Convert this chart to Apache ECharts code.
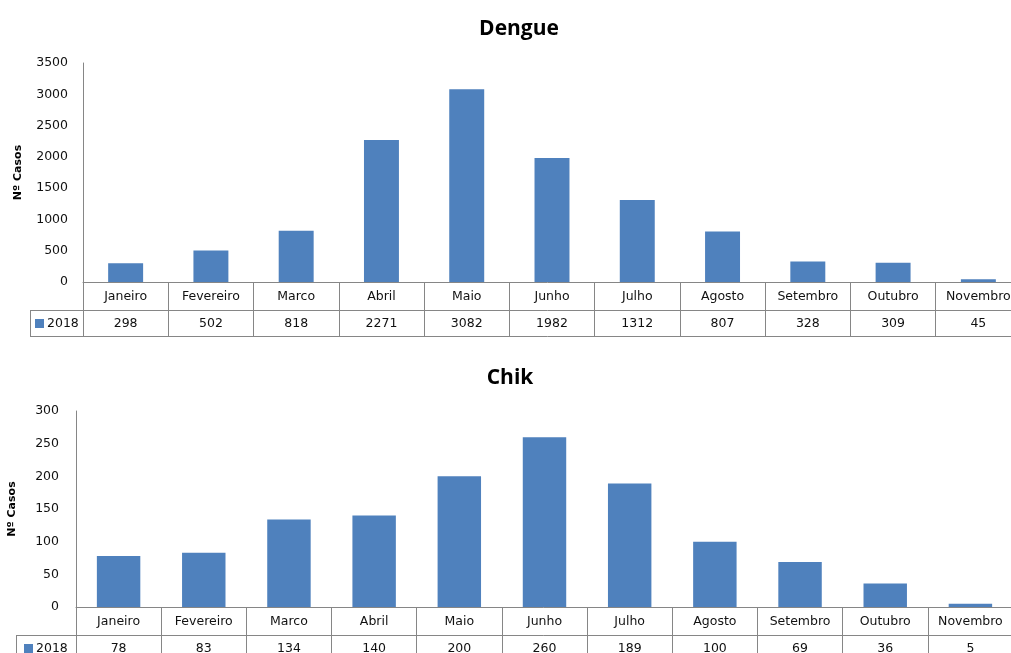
<!DOCTYPE html>
<html>
<head>
<meta charset="utf-8">
<script src="https://cdn.jsdelivr.net/npm/echarts@6/dist/echarts.min.js"></script>
<style>
  html, body { margin: 0; padding: 0; background: #fff; }
  #chart { width: 1011px; height: 653px; }
</style>
</head>
<body>
<div id="chart"></div>
<script>
// Monthly case counts, 2018
const months = ['Janeiro', 'Fevereiro', 'Marco', 'Abril', 'Maio', 'Junho', 'Julho', 'Agosto', 'Setembro', 'Outubro', 'Novembro'];
const dengueCases = [298, 502, 818, 2271, 3082, 1982, 1312, 807, 328, 309, 45];
const chikCases = [78, 83, 134, 140, 200, 260, 189, 100, 69, 36, 5];
const seriesName = '2018';
const titles = ['Dengue', 'Chik'];
const yAxisName = 'Nº Casos';

// Layout of the two panels (plot area + data table rows underneath)
const panels = [
  { left: 83, top: 63, height: 219, width: 938, tableLeft: 30, legendPad: 5, row1: 28, row2: 26, max: 3500, interval: 500, titleX: 514, titleY: 14, nameGap: 59, barGap: '59%', labelMargin: 15 },
  { left: 76, top: 411, height: 196, width: 937, tableLeft: 16, legendPad: 8, row1: 28, row2: 26, max: 300, interval: 50, titleX: 505, titleY: 363, nameGap: 58, barGap: '49%', labelMargin: 17 }
];
const dataSets = [dengueCases, chikCases];

const lineColor = '#868686';
const textColor = '#111';
const barColor = '#4f81bd';
const tickFont = { fontFamily: 'DejaVu Sans', fontSize: 12.5, color: textColor };

const option = {
  animation: false,
  backgroundColor: '#fff',
  title: [],
  legend: [],
  grid: [],
  xAxis: [],
  yAxis: [],
  series: [],
  graphic: []
};

panels.forEach((p, i) => {
  option.title.push({
    text: titles[i],
    left: p.titleX,
    top: p.titleY,
    textAlign: 'center',
    textStyle: { fontFamily: 'Open Sans', fontWeight: 'bold', fontSize: 21, color: '#000' }
  });
  option.grid.push({
    left: p.left, top: p.top, width: p.width, height: p.height,
    containLabel: false, outerBoundsMode: 'none'
  });

  // Category row of the table
  option.xAxis.push({
    type: 'category', gridIndex: i, data: months,
    axisLine: { show: true, lineStyle: { color: lineColor, width: 1 } },
    axisTick: { show: true, length: p.row1 + p.row2, interval: 0, lineStyle: { color: lineColor } },
    axisLabel: Object.assign({ interval: 0, margin: 8 }, tickFont),
    splitLine: { show: false }
  });
  // Value row of the table
  option.xAxis.push({
    type: 'category', gridIndex: i, position: 'bottom', offset: p.row1,
    data: dataSets[i].map(String),
    axisLine: { show: true, lineStyle: { color: lineColor, width: 1 } },
    axisTick: { show: false },
    axisLabel: Object.assign({ interval: 0, margin: 7 }, tickFont)
  });
  // Bottom border of the table
  option.xAxis.push({
    type: 'category', gridIndex: i, position: 'bottom', offset: p.row1 + p.row2,
    data: months,
    axisLine: { show: true, lineStyle: { color: lineColor, width: 1 } },
    axisTick: { show: false },
    axisLabel: { show: false }
  });

  option.yAxis.push({
    type: 'value', gridIndex: i, min: 0, max: p.max, interval: p.interval,
    name: yAxisName, nameLocation: 'middle', nameGap: p.nameGap, nameRotate: 90,
    nameTextStyle: { fontFamily: 'DejaVu Sans', fontWeight: 'bold', fontSize: 11, color: '#000' },
    axisLine: { show: true, lineStyle: { color: lineColor, width: 1 } },
    axisTick: { show: false },
    axisLabel: Object.assign({ margin: p.labelMargin, formatter: v => String(v) }, tickFont),
    splitLine: { show: false }
  });

  option.series.push({
    name: seriesName, type: 'bar', xAxisIndex: i * 3, yAxisIndex: i,
    data: dataSets[i], barCategoryGap: p.barGap,
    itemStyle: { color: barColor }
  });

  // Legend cell at the left end of the value row
  const rowTop = p.top + p.height + p.row1;
  const rowBottom = rowTop + p.row2;
  option.legend.push({
    data: [seriesName],
    left: p.tableLeft + p.legendPad, top: rowTop + 7,
    icon: 'rect', itemWidth: 9, itemHeight: 9, itemGap: 0,
    padding: 0, selectedMode: false,
    textStyle: Object.assign({ padding: [0, 0, 0, -2] }, tickFont)
  });
  const ls = { stroke: lineColor, lineWidth: 1 };
  option.graphic.push(
    { type: 'line', shape: { x1: p.tableLeft, y1: rowTop + 0.5, x2: p.left, y2: rowTop + 0.5 }, style: ls, silent: true },
    { type: 'line', shape: { x1: p.tableLeft, y1: rowBottom + 0.5, x2: p.left, y2: rowBottom + 0.5 }, style: ls, silent: true },
    { type: 'line', shape: { x1: p.tableLeft + 0.5, y1: rowTop, x2: p.tableLeft + 0.5, y2: rowBottom }, style: ls, silent: true }
  );
});

const chart = echarts.init(document.getElementById('chart'), null, { renderer: 'canvas' });
chart.setOption(option);
</script>
</body>
</html>
